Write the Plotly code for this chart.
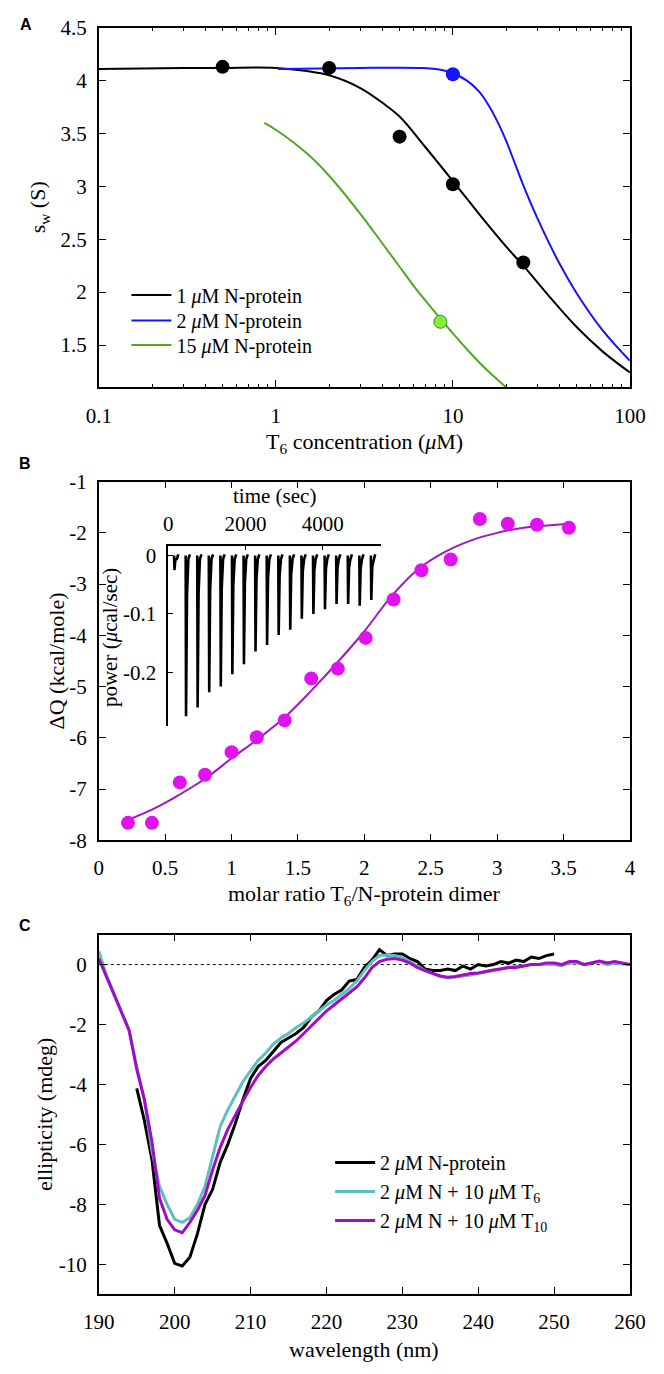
import plotly.graph_objects as go

# ---------------- Panel A data ----------------
a_pts1_x = [0.5, 2, 5, 10, 25]
a_pts1_y = [4.13, 4.12, 3.47, 3.02, 2.28]
a_pts2_x = [10]
a_pts2_y = [4.06]
a_pts15_x = [8.5]
a_pts15_y = [1.72]

a_fit1_x = [0.1, 0.3, 0.5, 1, 1.5, 2, 3, 4, 5, 7, 10, 15, 20, 25, 35, 50, 70, 100]
a_fit1_y = [4.11, 4.12, 4.12, 4.12, 4.09, 4.05, 3.93, 3.79, 3.66, 3.37, 3.05, 2.68, 2.43, 2.25, 1.96, 1.67, 1.44, 1.24]
a_fit2_x = [1.03, 3, 6.5, 8, 10, 12, 14, 16, 18, 20, 22.6, 25, 30, 40, 50, 70, 100]
a_fit2_y = [4.11, 4.12, 4.12, 4.11, 4.07, 4.00, 3.90, 3.76, 3.60, 3.43, 3.20, 3.01, 2.70, 2.27, 1.99, 1.64, 1.35]
a_fit15_x = [0.86, 1.0, 1.5, 2.0, 3.0, 4.0, 5.0, 6.0, 7.0, 8.5, 10, 12, 15, 20]
a_fit15_y = [3.60, 3.535, 3.31, 3.10, 2.74, 2.46, 2.24, 2.06, 1.92, 1.75, 1.61, 1.46, 1.29, 1.10]

a_xticks = [0.1, 1, 10, 100]
a_xticklabels = ["0.1", "1", "10", "100"]
a_yticks = [1.5, 2, 2.5, 3, 3.5, 4, 4.5]
a_yticklabels = ["1.5", "2", "2.5", "3", "3.5", "4", "4.5"]

# ---------------- Panel B data ----------------
b_ratio = [0.22, 0.40, 0.61, 0.80, 1.00, 1.19, 1.40, 1.60, 1.80, 2.01, 2.22, 2.43, 2.65, 2.87, 3.08, 3.30, 3.54]
b_dq = [-7.66, -7.66, -6.87, -6.72, -6.28, -5.99, -5.66, -4.84, -4.65, -4.05, -3.30, -2.73, -2.52, -1.73, -1.82, -1.84, -1.90]
b_fit_x = [0.22, 0.4, 0.56, 0.8, 1.0, 1.2, 1.4, 1.6, 1.8, 2.0, 2.2, 2.4, 2.6, 2.8, 3.0, 3.2, 3.4, 3.54]
b_fit_y = [-7.60, -7.40, -7.18, -6.80, -6.40, -6.02, -5.60, -5.08, -4.52, -3.92, -3.25, -2.72, -2.38, -2.15, -2.00, -1.90, -1.85, -1.82]
b_xticks = [0, 0.5, 1, 1.5, 2, 2.5, 3, 3.5, 4]
b_xticklabels = ["0", "0.5", "1", "1.5", "2", "2.5", "3", "3.5", "4"]
b_yticks = [-1, -2, -3, -4, -5, -6, -7, -8]
b_yticklabels = ["-1", "-2", "-3", "-4", "-5", "-6", "-7", "-8"]

# inset: ITC raw injections
itc_time = [150, 450, 750, 1050, 1350, 1650, 1950, 2250, 2550, 2850, 3150, 3450, 3750, 4050, 4350, 4650, 4950, 5250]
itc_peak = [-0.025, -0.275, -0.260, -0.234, -0.224, -0.203, -0.186, -0.164, -0.153, -0.136, -0.127,
            -0.108, -0.100, -0.092, -0.083, -0.083, -0.086, -0.076]
in_xticks = [0, 2000, 4000]
in_xticklabels = ["0", "2000", "4000"]
in_yticks = [0, -0.1, -0.2]
in_yticklabels = ["0", "-0.1", "-0.2"]

# ---------------- Panel C data ----------------
c_wl_n = [195, 196, 197, 198, 199, 200, 201, 202, 203, 204, 205, 206, 207, 208, 209, 210, 211, 212, 213,
          214, 215, 216, 217, 218, 219, 220, 221, 222, 223, 224, 225, 226, 227, 228, 229, 230, 231, 232,
          233, 234, 235, 236, 237, 238, 239, 240, 241, 242, 243, 244, 245, 246, 247, 248, 249, 250]
c_n = [-4.13, -5.2, -6.5, -8.7, -9.3, -9.97, -10.06, -9.77, -8.98, -8.0, -7.5, -6.6, -6.0, -5.3, -4.5,
       -3.8, -3.4, -3.2, -2.9, -2.6, -2.45, -2.3, -2.1, -1.75, -1.55, -1.2, -1.0, -0.85, -0.55, -0.5,
       -0.1, 0.15, 0.5, 0.3, 0.35, 0.35, 0.2, 0.1, -0.15, -0.2, -0.2, -0.15, -0.2, -0.05, -0.15, 0.0,
       -0.05, 0.0, 0.1, 0.05, 0.15, 0.1, 0.25, 0.2, 0.3, 0.35]
c_wl = [190, 191, 192, 193, 194, 195, 196, 197, 198, 199, 200, 201, 202, 203, 204, 205, 206, 207, 208,
        209, 210, 211, 212, 213, 214, 215, 216, 217, 218, 219, 220, 221, 222, 223, 224, 225, 226, 227,
        228, 229, 230, 231, 232, 233, 234, 235, 236, 237, 238, 239, 240, 241, 242, 243, 244, 245, 246,
        247, 248, 249, 250, 251, 252, 253, 254, 255, 256, 257, 258, 259, 260]
c_t6 = [0.45, -0.35, -0.95, -1.55, -2.2, -3.4, -4.5, -6.2, -7.4, -8.0, -8.5, -8.6, -8.45, -8.0, -7.4,
        -6.4, -5.4, -4.85, -4.35, -3.9, -3.55, -3.2, -2.95, -2.65, -2.45, -2.3, -2.1, -1.95, -1.75,
        -1.55, -1.35, -1.2, -1.0, -0.8, -0.55, -0.2, 0.1, 0.3, 0.32, 0.3, 0.25, 0.1, -0.05, -0.2, -0.3,
        -0.4, -0.45, -0.42, -0.38, -0.35, -0.3, -0.26, -0.2, -0.14, -0.1, -0.06, -0.05, 0.0, 0.0, 0.02,
        0.0, -0.04, 0.05, 0.05, 0.0, 0.05, 0.1, 0.0, 0.05, 0.03, 0.0]
c_t10 = [0.2, -0.4, -1.0, -1.6, -2.2, -3.5, -4.5, -5.9, -7.8, -8.5, -8.85, -8.95, -8.6, -8.2, -7.7,
         -6.85, -6.1, -5.5, -5.0, -4.55, -4.1, -3.7, -3.4, -3.15, -2.95, -2.75, -2.55, -2.3, -2.05,
         -1.8, -1.55, -1.35, -1.15, -0.95, -0.75, -0.45, -0.1, 0.1, 0.18, 0.2, 0.15, 0.05, -0.1, -0.2,
         -0.3, -0.38, -0.42, -0.4, -0.35, -0.3, -0.28, -0.22, -0.18, -0.15, -0.1, -0.1, -0.05, 0.0,
         0.0, 0.05, 0.05, 0.0, 0.1, 0.1, 0.0, 0.05, 0.12, 0.05, 0.1, 0.05, 0.0]
c_xticks = [190, 200, 210, 220, 230, 240, 250, 260]
c_xticklabels = ["190", "200", "210", "220", "230", "240", "250", "260"]
c_yticks = [0, -2, -4, -6, -8, -10]
c_yticklabels = ["0", "-2", "-4", "-6", "-8", "-10"]

# ---------------- layout helpers ----------------
W, H = 664, 1374
SERIF = "Liberation Serif"
TICKF = dict(family=SERIF, size=21, color="black")
LEGF = dict(family=SERIF, size=20, color="black")


def dx(p):
    return p / W


def dy(p):
    return 1 - p / H


def ax(**kw):
    base = dict(showline=True, linecolor="black", linewidth=1.5, mirror="ticks", ticks="inside",
                ticklen=7, tickwidth=1.3, tickcolor="black", showgrid=False, zeroline=False,
                tickfont=TICKF)
    base.update(kw)
    return base


fig = go.Figure()

# Panel A
fig.add_trace(go.Scatter(x=a_fit1_x, y=a_fit1_y, mode="lines", line=dict(color="black", width=2, shape="spline"),
                         name="1 <i>μ</i>M N-protein", xaxis="x", yaxis="y", legend="legend"))
fig.add_trace(go.Scatter(x=a_fit2_x, y=a_fit2_y, mode="lines", line=dict(color="#1414ff", width=2, shape="spline"),
                         name="2 <i>μ</i>M N-protein", xaxis="x", yaxis="y", legend="legend3"))
fig.add_trace(go.Scatter(x=a_fit15_x, y=a_fit15_y, mode="lines", line=dict(color="#52a81e", width=2, shape="spline"),
                         name="15 <i>μ</i>M N-protein", xaxis="x", yaxis="y", legend="legend4"))
fig.add_trace(go.Scatter(x=a_pts1_x, y=a_pts1_y, mode="markers", marker=dict(color="black", size=14),
                         showlegend=False, xaxis="x", yaxis="y"))
fig.add_trace(go.Scatter(x=a_pts2_x, y=a_pts2_y, mode="markers", marker=dict(color="#1414ff", size=14),
                         showlegend=False, xaxis="x", yaxis="y"))
fig.add_trace(go.Scatter(x=a_pts15_x, y=a_pts15_y, mode="markers",
                         marker=dict(color="#86ec3c", size=13, line=dict(color="#3c8c1a", width=1)),
                         showlegend=False, xaxis="x", yaxis="y"))

# Panel B
fig.add_trace(go.Scatter(x=b_fit_x, y=b_fit_y, mode="lines", line=dict(color="#a018c4", width=2, shape="spline"),
                         showlegend=False, xaxis="x2", yaxis="y2"))
fig.add_trace(go.Scatter(x=b_ratio, y=b_dq, mode="markers", marker=dict(color="#e012f0", size=14),
                         showlegend=False, xaxis="x2", yaxis="y2"))

# inset ITC trace
itc_x, itc_y = [], []
for t, p in zip(itc_time, itc_peak):
    itc_x += [t, t + 10, t + 35, t + 70, t + 110, None]
    itc_y += [0.0, p, p * 0.25, -0.006, 0.002, None]
fig.add_trace(go.Scatter(x=itc_x, y=itc_y, mode="lines", line=dict(color="black", width=2.6),
                         showlegend=False, xaxis="x4", yaxis="y4", connectgaps=False))

# Panel C
fig.add_trace(go.Scatter(x=c_wl_n, y=c_n, mode="lines", line=dict(color="black", width=3),
                         name="2 <i>μ</i>M N-protein", xaxis="x3", yaxis="y3", legend="legend2"))
fig.add_trace(go.Scatter(x=c_wl, y=c_t6, mode="lines", line=dict(color="#5fbebe", width=3),
                         name="2 <i>μ</i>M N + 10 <i>μ</i>M T<sub>6</sub>", xaxis="x3", yaxis="y3", legend="legend2"))
fig.add_trace(go.Scatter(x=c_wl, y=c_t10, mode="lines", line=dict(color="#a20cc6", width=3),
                         name="2 <i>μ</i>M N + 10 <i>μ</i>M T<sub>10</sub>", xaxis="x3", yaxis="y3", legend="legend2"))

minor_vals = [m * 10 ** e for e in (-1, 0, 1) for m in range(2, 10)]


def leg(x, y, anchor="middle"):
    return dict(x=dx(x), y=dy(y), xanchor="left", yanchor=anchor, bgcolor="rgba(0,0,0,0)",
                font=LEGF, tracegroupgap=0, itemwidth=40)


fig.update_layout(
    width=W, height=H, margin=dict(l=0, r=0, t=0, b=0),
    paper_bgcolor="white", plot_bgcolor="rgba(0,0,0,0)",
    font=dict(family=SERIF, size=20, color="black"),
    xaxis=ax(domain=[dx(87), dx(645)], anchor="y", type="log", range=[-1, 2],
             tickvals=a_xticks, ticktext=a_xticklabels, ticklen=8, ticklabelstandoff=9,
             minor=dict(tickvals=minor_vals, ticks="inside", ticklen=4, tickcolor="black", tickwidth=1)),
    yaxis=ax(domain=[dy(382), dy(16)], anchor="x", range=[1.1, 4.5],
             tickvals=a_yticks, ticktext=a_yticklabels, ticklabelstandoff=6),
    xaxis2=ax(domain=[dx(87), dx(645)], anchor="y2", range=[0, 4],
              tickvals=b_xticks, ticktext=b_xticklabels, ticklabelstandoff=8),
    yaxis2=ax(domain=[dy(843), dy(478)], anchor="x2", range=[-8, -1],
              tickvals=b_yticks, ticktext=b_yticklabels, ticklabelstandoff=6),
    xaxis3=ax(domain=[dx(87), dx(645)], anchor="y3", range=[190, 260],
              tickvals=c_xticks, ticktext=c_xticklabels, ticklabelstandoff=8),
    yaxis3=ax(domain=[dy(1305), dy(939)], anchor="x3", range=[-11, 1],
              tickvals=c_yticks, ticktext=c_yticklabels, ticklabelstandoff=6),
    xaxis4=dict(domain=[dx(160), dx(383)], anchor="y4", side="top", range=[0, 5500],
                tickvals=in_xticks, ticktext=in_xticklabels, showline=True, linecolor="black",
                linewidth=1.5, ticks="inside", ticklen=5, tickcolor="black", showgrid=False,
                zeroline=False, tickfont=TICKF, ticklabelstandoff=4),
    yaxis4=dict(domain=[dy(727), dy(543)], anchor="x4", range=[-0.292, 0.017],
                tickvals=in_yticks, ticktext=in_yticklabels, showline=True, linecolor="black",
                linewidth=1.5, ticks="inside", ticklen=5, tickcolor="black", showgrid=False,
                zeroline=False, tickfont=TICKF, ticklabelstandoff=6),
    legend=leg(116, 288),
    legend3=leg(116, 314),
    legend4=leg(116, 339),
    legend2=leg(330, 1151, anchor="top"),
    showlegend=True,
)

# zero reference line in C
fig.add_shape(type="line", xref="x3 domain", yref="y3", x0=0, x1=1, y0=0, y1=0,
              line=dict(color="black", width=1, dash="dot"), layer="below")


def note(text, x, y, angle=0, size=22, family=SERIF, bold=False):
    fig.add_annotation(text=("<b>%s</b>" % text) if bold else text, x=dx(x), y=dy(y), xref="paper",
                       yref="paper", showarrow=False, textangle=angle, xanchor="center", yanchor="middle",
                       font=dict(family=family, size=size, color="black"))


# axis titles
note("T<sub>6</sub> concentration (<i>μ</i>M)", 366, 439)
note("s<sub>w</sub> (S)", 24, 199, angle=-90)
note("molar ratio T<sub>6</sub>/N-protein dimer", 366, 899)
note("ΔQ (kcal/mole)", 42, 660, angle=-90)
note("time (sec)", 272, 493, size=21)
note("power (<i>μ</i>cal/sec)", 99, 637, angle=-90, size=21)
note("wavelength (nm)", 366, 1361)
note("ellipticity (mdeg)", 30, 1122, angle=-90)

# panel letters
note("A", 10, 13, size=16, family="Liberation Sans", bold=True)
note("B", 9, 460, size=16, family="Liberation Sans", bold=True)
note("C", 9, 930, size=16, family="Liberation Sans", bold=True)

fig.write_html("out.html", config={"displayModeBar": False},
               post_script="document.body.style.margin='0px';")
